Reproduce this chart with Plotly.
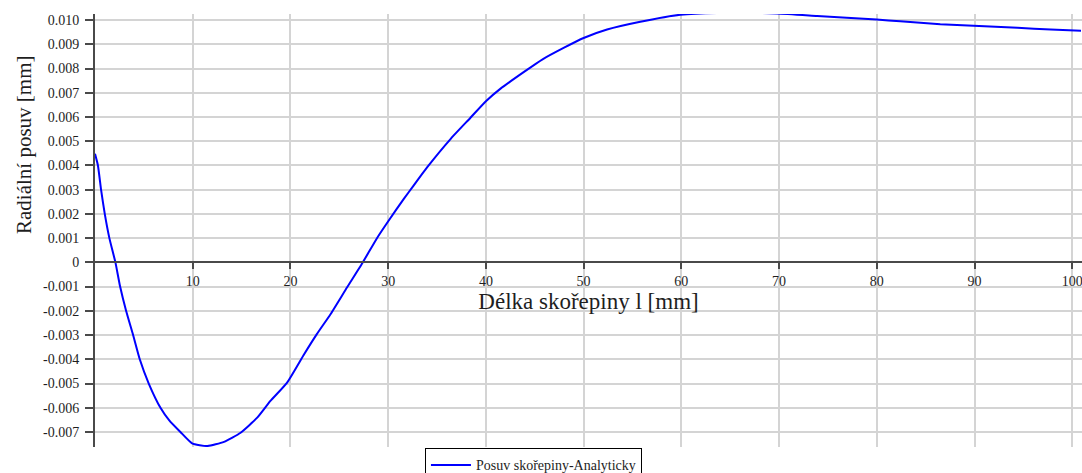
import plotly.graph_objects as go

# Radial displacement of the shell along its length (analytical solution)
delka_mm = [0, 0.3, 0.62, 1.0, 1.47, 2.09, 2.57, 3.18, 3.9, 4.58, 5.5, 6.7, 7.6, 8.74,
            9.94, 11.5, 13.2, 14.9, 16.6, 17.95, 19.66, 21.4, 22.7, 24.1, 25.8, 27.3,
            28.9, 30.06, 31.6, 32.6, 34.0, 36.4, 38.4, 40.0, 41.5, 43.9, 45.8, 48.0,
            50.0, 52.4, 55.8, 59.9, 65.0, 69.8, 73.9, 80.0, 82.4, 86.5, 89.9, 94.4,
            97.8, 100.9]
posuv_mm = [0.00448, 0.0040, 0.0030, 0.0020, 0.0010, 0.0, -0.0010, -0.0020, -0.0030,
            -0.0040, -0.0050, -0.0060, -0.00652, -0.0070, -0.00747, -0.00758, -0.00741,
            -0.00703, -0.00641, -0.00572, -0.00496, -0.00379, -0.00296, -0.00214,
            -0.00103, -0.00007, 0.00103, 0.00173, 0.00262, 0.00317, 0.00393, 0.0051,
            0.00596, 0.00665, 0.00717, 0.00786, 0.00838, 0.00886, 0.00926, 0.00961,
            0.00993, 0.01022, 0.0103, 0.01027, 0.01017, 0.01002, 0.00995, 0.00983,
            0.00977, 0.00968, 0.00961, 0.00956]

x_ticks = [10, 20, 30, 40, 50, 60, 70, 80, 90, 100]
y_ticks = [-0.007, -0.006, -0.005, -0.004, -0.003, -0.002, -0.001, 0.0,
           0.001, 0.002, 0.003, 0.004, 0.005, 0.006, 0.007, 0.008, 0.009, 0.010]
y_tick_text = ["-0.007", "-0.006", "-0.005", "-0.004", "-0.003", "-0.002", "-0.001", "0",
               "0.001", "0.002", "0.003", "0.004", "0.005", "0.006", "0.007", "0.008",
               "0.009", "0.010"]

x_range = [0, 101]
y_range = [-0.00762, 0.01025]

serif = "Liberation Serif"
axis_col = "#4a4a4a"
grid_col = "#d4d4d4"
text_col = "#1e1e1e"
tick_font = dict(family=serif, size=14, color=text_col)

fig = go.Figure()
fig.add_trace(go.Scatter(
    x=delka_mm, y=posuv_mm, mode="lines",
    name="Posuv skořepiny-Analyticky",
    line=dict(color="#0000ff", width=2, shape="spline", smoothing=0.5),
))

# horizontal axis sits on the y = 0 line
zero_pos = (0 - y_range[0]) / (y_range[1] - y_range[0])

fig.update_layout(
    width=1082, height=473,
    margin=dict(l=95, r=0, t=14, b=26, autoexpand=False),
    paper_bgcolor="white", plot_bgcolor="white",
    font=dict(family=serif, color=text_col),
    showlegend=True,
    legend=dict(
        x=0.3343, xanchor="left", y=-0.003, yanchor="top",
        bordercolor="#000000", borderwidth=1, bgcolor="white",
        itemwidth=40,
        font=dict(family=serif, size=14, color=text_col),
    ),
    xaxis=dict(
        range=x_range, tickvals=x_ticks,
        anchor="free", position=zero_pos,
        showline=True, linecolor=axis_col, linewidth=2,
        ticks="outside", ticklen=6, tickwidth=2, tickcolor=axis_col,
        ticklabeloverflow="allow",
        showgrid=True, gridcolor=grid_col, gridwidth=2,
        zeroline=False, tickfont=tick_font,
        title=dict(text="Délka skořepiny l [mm]", standoff=2,
                   font=dict(family=serif, size=23, color=text_col)),
    ),
    yaxis=dict(
        range=y_range, tickvals=y_ticks, ticktext=y_tick_text,
        showline=True, linecolor=axis_col, linewidth=2,
        ticks="outside", ticklen=8, tickwidth=2, tickcolor=axis_col,
        ticklabelstandoff=3,
        showgrid=True, gridcolor=grid_col, gridwidth=2,
        zeroline=False, tickfont=tick_font,
    ),
    annotations=[dict(
        text="Radiální posuv [mm]", textangle=-90,
        xref="paper", yref="paper", x=-0.0719, y=0.6975,
        xanchor="center", yanchor="middle", showarrow=False,
        font=dict(family=serif, size=21, color=text_col),
    )],
)

fig.write_html("out.html")
